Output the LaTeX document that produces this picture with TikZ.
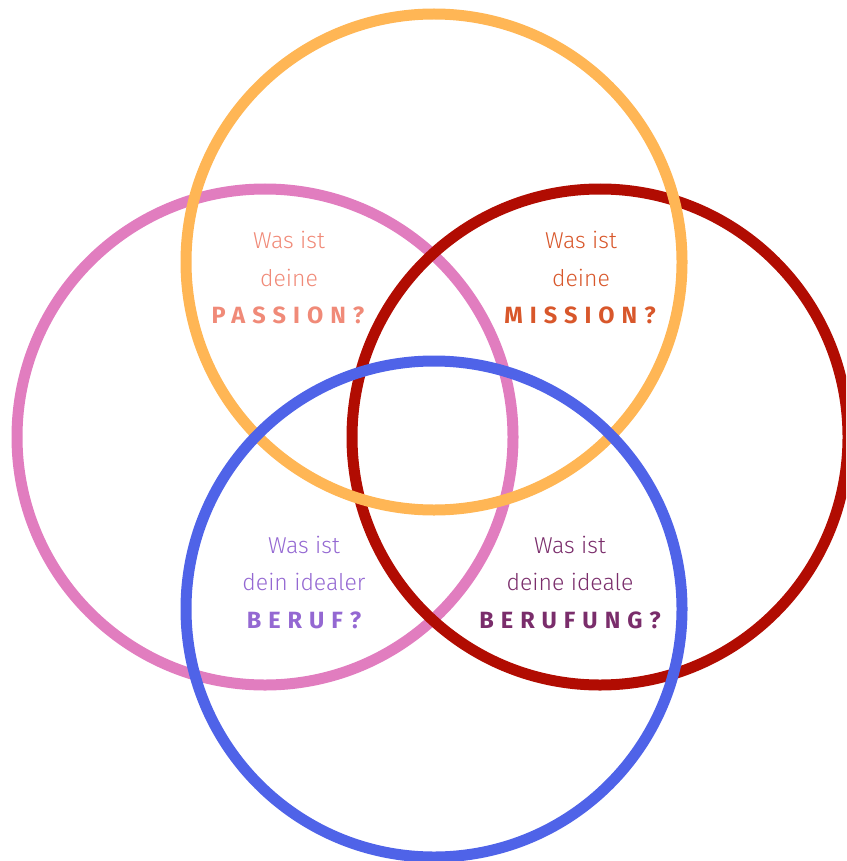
\documentclass[tikz,border=0pt]{standalone}
\usepackage{fontspec}
\setmainfont{Fira Sans}
\newfontfamily\lightfont{Fira Sans Light}
\newfontfamily\capsfont{Fira Sans}[LetterSpace=30,BoldFont=* Bold]
\definecolor{ringorange}{HTML}{FFB655}
\definecolor{ringpink}{HTML}{E17DBF}
\definecolor{ringred}{HTML}{B10C02}
\definecolor{ringblue}{HTML}{4F63E8}
\definecolor{txtpassion}{HTML}{F08A78}
\definecolor{txtmission}{HTML}{D8572B}
\definecolor{txtberuf}{HTML}{9468D2}
\definecolor{txtberufung}{HTML}{7A2D6B}
\tikzset{
  ring/.style={draw=#1, line width=11pt},
  question/.style={anchor=base, inner sep=0pt, text=#1, font=\lightfont\fontsize{23}{28}\selectfont},
  keyword/.style={anchor=base, inner sep=0pt, text=#1, font=\capsfont\bfseries\fontsize{23.5}{28}\selectfont},
}
\begin{document}
\begin{tikzpicture}[x=1pt,y=-1pt]
\useasboundingbox (0,0) rectangle (846,861);
\begin{scope}
\clip (0,0) rectangle (846,861);
\draw[ring=ringpink]   (265,437) circle[radius=248];
\draw[ring=ringred]    (600,437) circle[radius=248];
\draw[ring=ringorange] (434,262) circle[radius=248];
\draw[ring=ringblue]   (434,609) circle[radius=248];
\end{scope}
% top-left lens
\node[question=txtpassion] (p1) at (289,248) {Was ist};
\node[question=txtpassion] (p2) at (289,286) {deine};
\node[keyword=txtpassion]  (p3) at (288,323) {PASSION?};
% top-right lens
\node[question=txtmission] (m1) at (581,248) {Was ist};
\node[question=txtmission] (m2) at (581,286) {deine};
\node[keyword=txtmission]  (m3) at (580,323) {MISSION?};
% bottom-left lens
\node[question=txtberuf] (b1) at (304,553) {Was ist};
\node[question=txtberuf] (b2) at (304,590) {dein idealer};
\node[keyword=txtberuf]  (b3) at (304,628) {BERUF?};
% bottom-right lens
\node[question=txtberufung] (f1) at (570,553) {Was ist};
\node[question=txtberufung] (f2) at (570,590) {deine ideale};
\node[keyword=txtberufung]  (f3) at (570,628) {BERUFUNG?};
\end{tikzpicture}
\end{document}
